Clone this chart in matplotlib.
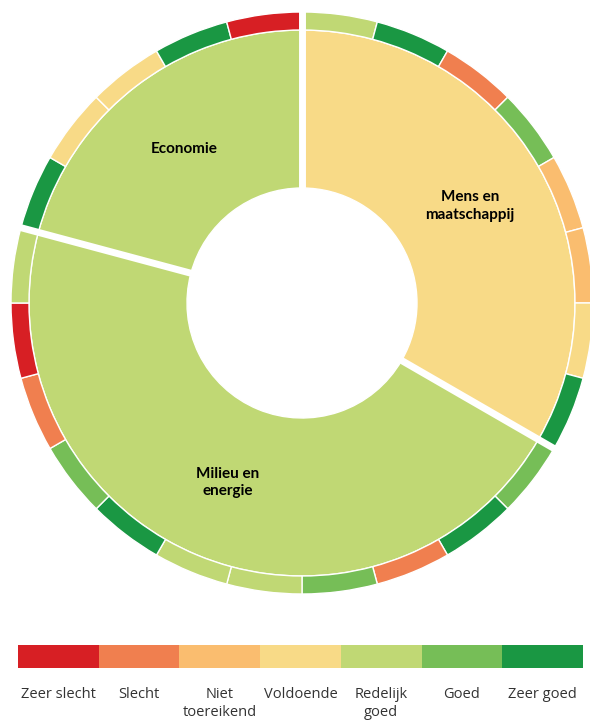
import matplotlib
matplotlib.use('Agg')
import matplotlib.pyplot as plt
import numpy as np

# ---- data ----
ratings = ["Zeer slecht", "Slecht", "Niet\ntoereikend", "Voldoende",
           "Redelijk\ngoed", "Goed", "Zeer goed"]
rating_colors = ["#D71F24", "#F07F4F", "#FABD6F", "#F8DA87",
                 "#C0D874", "#76BE57", "#1A9743"]

domains = ["Mens en\nmaatschappij", "Milieu en\nenergie", "Economie"]
domain_scores = [3, 4, 4]  # index into ratings
mens_indicators = [4, 6, 1, 5, 2, 2, 3, 6]
milieu_indicators = [5, 6, 1, 5, 4, 4, 6, 5, 1, 0, 4]
economie_indicators = [6, 3, 3, 6, 0]

indicator_lists = [mens_indicators, milieu_indicators, economie_indicators]

# ---- figure ----
W, H = 590, 721
fig = plt.figure(figsize=(W / 100, H / 100), dpi=100)

cx, cy = 302, 303  # pixel centre of donut (from top-left)
half = 300
ax = fig.add_axes([(cx - half) / W, (H - cy - half) / H, 2 * half / W, 2 * half / H])

R_out = 291
R_mid = 273
R_in = 115

domain_sizes = [len(l) for l in indicator_lists]
inner_colors = [rating_colors[s] for s in domain_scores]
outer_vals = [1 for l in indicator_lists for _ in l]
outer_colors = [rating_colors[r] for l in indicator_lists for r in l]

ax.pie(domain_sizes, radius=R_mid, colors=inner_colors, startangle=90,
       counterclock=False,
       wedgeprops=dict(width=R_mid - R_in, edgecolor='white', linewidth=1.0))
ax.pie(outer_vals, radius=R_out, colors=outer_colors, startangle=90,
       counterclock=False,
       wedgeprops=dict(width=R_out - R_mid, edgecolor='white', linewidth=1.0))

total = sum(domain_sizes)
cum = np.cumsum([0] + domain_sizes)
for c in cum[:-1]:
    ang = np.deg2rad(360.0 * c / total)
    ax.plot([0, 300 * np.sin(ang)], [0, 300 * np.cos(ang)], color='white',
            lw=5.0, solid_capstyle='butt', zorder=5)

r_lab = (R_in + R_mid) / 2
for i, name in enumerate(domains):
    mid = np.deg2rad(360.0 * (cum[i] + cum[i + 1]) / 2 / total)
    ax.text(r_lab * np.sin(mid), r_lab * np.cos(mid), name, ha='center', va='center',
            fontsize=11, fontweight='bold', family=['Lato', 'DejaVu Sans'],
            color='#000000', linespacing=1.3, zorder=6)

ax.set_xlim(-half, half)
ax.set_ylim(-half, half)
ax.set_aspect('equal')
ax.axis('off')

# ---- legend bar ----
lx0, lx1, ly0, ly1 = 18, 583, 645, 668
ax2 = fig.add_axes([lx0 / W, (H - ly1) / H, (lx1 - lx0) / W, (ly1 - ly0) / H])
ax2.bar(range(len(ratings)), [1] * len(ratings), width=1.0, color=rating_colors,
        edgecolor='none')
ax2.set_xlim(-0.5, len(ratings) - 0.5)
ax2.set_ylim(0, 1)
ax2.axis('off')
for i, lab in enumerate(ratings):
    ax2.text(i, -(687 - ly1) / (ly1 - ly0), lab, ha='center', va='top',
             fontsize=10.5, family=['Open Sans', 'DejaVu Sans'], color='#333333',
             linespacing=1.25, clip_on=False)

fig.savefig('out.png', dpi=100)
